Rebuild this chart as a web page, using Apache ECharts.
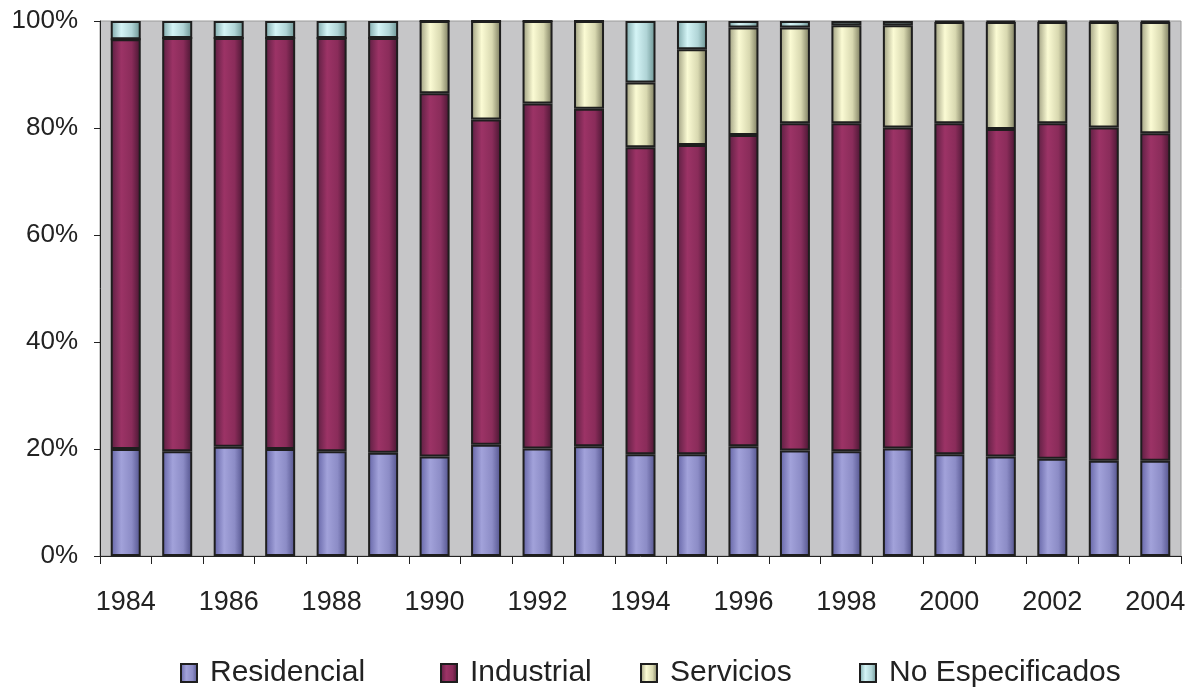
<!DOCTYPE html>
<html>
<head>
<meta charset="utf-8">
<script src="https://cdn.jsdelivr.net/npm/echarts@6/dist/echarts.min.js"></script>
<style>
html,body{margin:0;padding:0;background:#fff;}
#c{width:1192px;height:688px;}
</style>
</head>
<body>
<div id="c"></div>
<script>
const years = ['1984','1985','1986','1987','1988','1989','1990','1991','1992','1993','1994','1995','1996','1997','1998','1999','2000','2001','2002','2003','2004'];
const residencial = [20.0,19.6,20.4,20.0,19.6,19.3,18.6,20.8,20.1,20.5,19.0,19.0,20.5,19.7,19.6,20.1,19.0,18.6,18.2,17.8,17.8];
const industrial = [76.6,77.2,76.4,76.8,77.2,77.5,67.9,60.8,64.5,63.1,57.4,57.8,58.2,61.2,61.3,60.0,61.9,61.2,62.7,62.3,61.2];
const servicios = [0,0,0,0,0,0,13.5,18.4,15.4,16.4,12.1,17.9,20.1,17.9,18.3,19.1,18.9,20.0,18.9,19.7,20.8];
const noEspecificados = [3.4,3.2,3.2,3.2,3.2,3.2,0,0,0,0,11.5,5.3,1.2,1.2,0.8,0.8,0.2,0.2,0.2,0.2,0.2];
const yTicks = ['0%','20%','40%','60%','80%','100%'];

const FONT = '"Liberation Sans", Arial, sans-serif';
function grad(c0, c1, c2, c3) {
  return new echarts.graphic.LinearGradient(0, 0, 1, 0, [
    {offset: 0, color: c0},
    {offset: 0.35, color: c1},
    {offset: 0.7, color: c2},
    {offset: 1, color: c3}
  ]);
}
const styles = [
  grad('#6262A4', '#A2A2DA', '#8C8CC6', '#50508A'),
  grad('#5A1E40', '#9C3366', '#8A2C5A', '#451530'),
  grad('#9A9A7C', '#FBFBD4', '#D8D8B0', '#76765A'),
  grad('#7AA4A6', '#D4F4F6', '#B0D4D6', '#68908F')
];
const names = ['Residencial','Industrial','Servicios','No Especificados'];
const data = [residencial, industrial, servicios, noEspecificados];
const legendLeft = [180, 440, 640, 859];

const chart = echarts.init(document.getElementById('c'), null, {renderer: 'canvas'});
chart.setOption({
  animation: false,
  backgroundColor: '#ffffff',
  grid: {
    left: 100, right: 11, top: 21, bottom: 132,
    show: true, backgroundColor: '#C6C6C8', borderColor: '#9A9A9A', borderWidth: 1
  },
  legend: names.map(function (n, i) {
    return {
      top: 658, left: legendLeft[i], padding: 0,
      icon: 'rect',
      itemWidth: 16, itemHeight: 18,
      textStyle: {fontFamily: FONT, fontSize: 30, color: '#222', padding: [0, 0, 0, 8]},
      data: [n]
    };
  }),
  xAxis: {
    type: 'category',
    data: years,
    boundaryGap: true,
    axisLine: {show: true, lineStyle: {color: '#222', width: 1}},
    axisTick: {show: true, interval: 0, length: 8, lineStyle: {color: '#222'}},
    axisLabel: {interval: 1, fontFamily: FONT, fontSize: 27, color: '#222', margin: 33}
  },
  yAxis: {
    type: 'value',
    min: 0, max: 100, interval: 20,
    axisLine: {show: true, lineStyle: {color: '#222', width: 1}},
    axisTick: {show: true, length: 6, lineStyle: {color: '#222'}},
    splitLine: {show: false},
    axisLabel: {
      fontFamily: FONT, fontSize: 26, color: '#222', margin: 22,
      formatter: function (v) { return yTicks[Math.round(v / 20)]; }
    }
  },
  series: names.map(function (n, i) {
    return {
      name: n,
      type: 'bar',
      stack: 'total',
      barWidth: 30,
      data: data[i],
      itemStyle: {color: styles[i], borderColor: '#1E1E1E', borderWidth: 2}
    };
  })
});
</script>
</body>
</html>
